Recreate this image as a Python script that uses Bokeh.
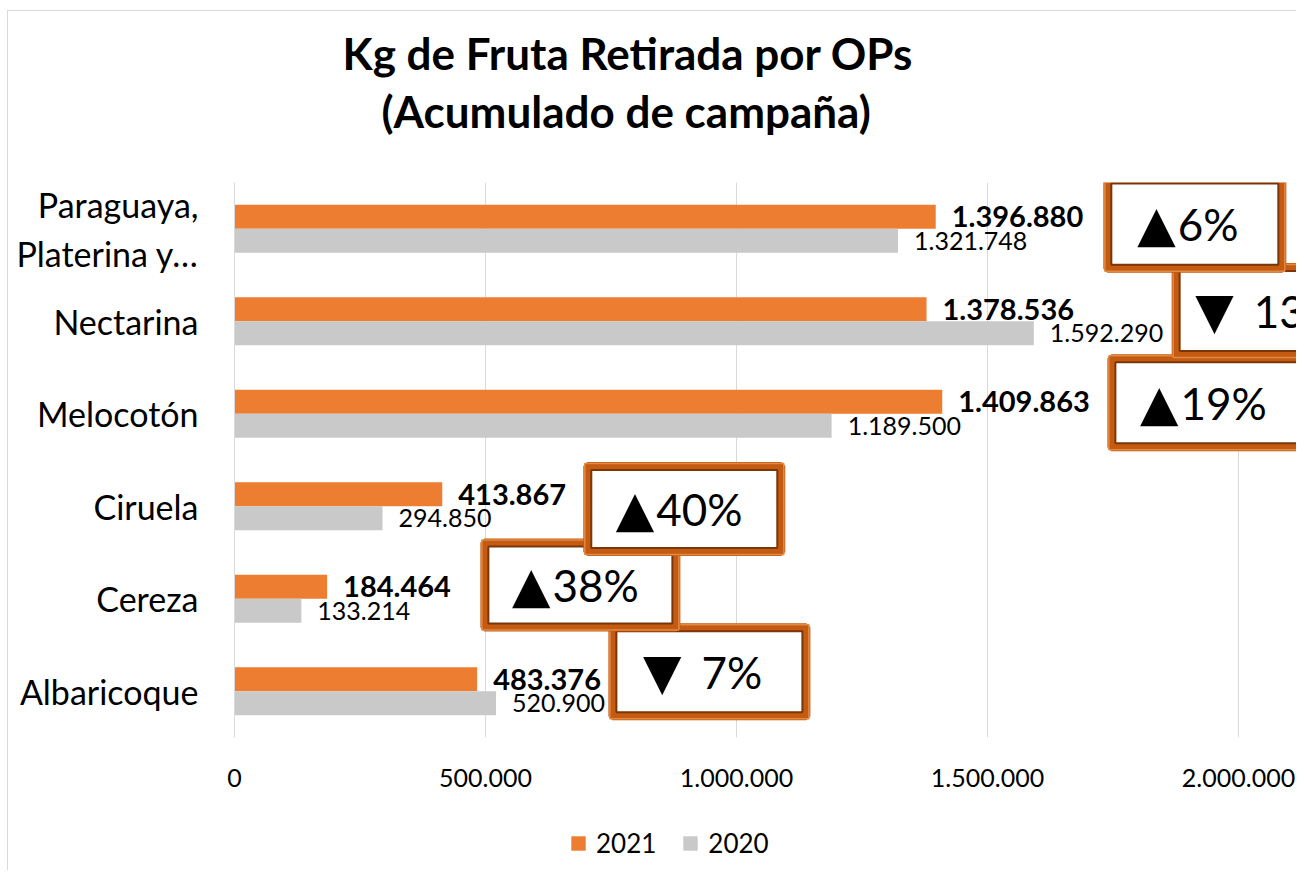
from bokeh.plotting import figure
from bokeh.layouts import column
from bokeh.models import FactorRange, Range1d, FixedTicker, ColumnDataSource, Legend, LegendItem, Title
from bokeh.transform import dodge
from bokeh.core.properties import value
from bokeh.embed import file_html
from bokeh.resources import INLINE

# ---------------- data ----------------
categories = ["Albaricoque", "Cereza", "Ciruela", "Melocotón", "Nectarina", "Paraguaya,\nPlaterina y…"]
kg_2021 = [483376, 184464, 413867, 1409863, 1378536, 1396880]
kg_2020 = [520900, 133214, 294850, 1189500, 1592290, 1321748]
series_names = ["2021", "2020"]
x_ticks = [0, 500000, 1000000, 1500000, 2000000]
x_tick_labels = ["0", "500.000", "1.000.000", "1.500.000", "2.000.000"]
title_lines = ["Kg de Fruta Retirada por OPs", "(Acumulado de campaña)"]

# ---------------- layout of the change call-outs (positions only) ----------------
callout_x = [946000, 689000, 896000, 1940000, 2068000, 1913000]
callout_dy = [0.21, 0.15, -0.03, 0.12, 0.11, 0.05]
callout_w = [194, 192, 194, 194, 194, 175]
callout_h = [89, 85, 86, 89, 88, 89]

ORANGE = "#ed7d31"
GRAY = "#c9c9c9"
FONT = "Lato"


def fmt(v):
    return f"{v:,}".replace(",", ".")


def change_parts(a, b):
    pct = round((a / b - 1) * 100)
    return ("▲" if pct >= 0 else "▼"), f"{abs(pct)}%", pct < 0


src = ColumnDataSource(dict(
    cat=categories,
    v21=kg_2021,
    v20=kg_2020,
    t21=[fmt(v) for v in kg_2021],
    t20=[fmt(v) for v in kg_2020],
))

W, H, HL = 1296, 800, 70
p = figure(
    width=W, height=H,
    y_range=FactorRange(*categories),
    x_range=Range1d(0, 1062 / 251 * 500000),
    output_backend="svg", toolbar_location=None,
    min_border_left=234, min_border_right=0, min_border_top=182, min_border_bottom=63,
)
p.outline_line_color = None
p.border_fill_color = None
p.background_fill_color = "white"

# bars
r21 = p.hbar(y=dodge("cat", 0.13, range=p.y_range), left=0, right="v21", height=0.26,
             source=src, fill_color=ORANGE, line_color=None)
r20 = p.hbar(y=dodge("cat", -0.13, range=p.y_range), left=0, right="v20", height=0.26,
             source=src, fill_color=GRAY, line_color=None)

# value labels
p.text(x="v21", y=dodge("cat", 0.13, range=p.y_range), text="t21", source=src,
       x_offset=16, text_align="left", text_baseline="middle",
       text_font=value(FONT), text_font_style="bold", text_font_size="29px", text_color="black")
p.text(x="v20", y=dodge("cat", -0.13, range=p.y_range), text="t20", source=src,
       x_offset=16, text_align="left", text_baseline="middle",
       text_font=value(FONT), text_font_size="25px", text_color="black")

# change call-outs
cy = [i + 0.5 + d for i, d in enumerate(callout_dy)]
parts = [change_parts(a, b) for a, b in zip(kg_2021, kg_2020)]
for i in range(len(categories)):
    tri, pct, down = parts[i]
    pw = 22 * sum(ch.isdigit() for ch in pct) + 40 + (18 if down else 0)
    tend = -7 - (38 + pw) / 2 + 38
    one = ColumnDataSource(dict(x=[callout_x[i]], y=[cy[i]], w=[callout_w[i]], h=[callout_h[i]],
                                w2=[callout_w[i] - 8], h2=[callout_h[i] - 8],
                                w3=[callout_w[i] + 5], h3=[callout_h[i] + 5],
                                tri=[tri], pct=[pct], xo=[tend], xo2=[tend + 2 + (18 if down else 0)]))
    p.rect(x="x", y="y", width="w", height="h", width_units="screen", height_units="screen",
           source=one, fill_color="white", line_color="#c55a11", line_width=8)
    p.rect(x="x", y="y", width="w3", height="h3", width_units="screen", height_units="screen",
           source=one, fill_color=None, line_color="#e08a45", line_width=1.5)
    p.rect(x="x", y="y", width="w2", height="h2", width_units="screen", height_units="screen",
           source=one, fill_color=None, line_color="#7a3608", line_width=2)
    p.text(x="x", y="y", text="tri", source=one, x_offset="xo", text_align="right",
           text_baseline="middle", text_font=value("DejaVu Sans"), text_font_size="50px",
           text_color="black")
    p.text(x="x", y="y", text="pct", source=one, x_offset="xo2", text_align="left",
           text_baseline="middle", text_font=value(FONT), text_font_size="44px", text_color="black")

# axes
p.xaxis.ticker = FixedTicker(ticks=x_ticks)
p.xaxis.major_label_overrides = {t: l for t, l in zip(x_ticks, x_tick_labels)}
p.xaxis.axis_line_color = None
p.xaxis.major_tick_line_color = None
p.xaxis.major_tick_out = 0
p.xaxis.major_tick_in = 0
p.xaxis.minor_tick_line_color = None
p.xaxis.major_label_standoff = 31
p.xaxis.major_label_text_font = FONT
p.xaxis.major_label_text_font_size = "25px"
p.xaxis.major_label_text_color = "black"

p.yaxis.axis_line_color = "#d9d9d9"
p.yaxis.major_tick_line_color = None
p.yaxis.major_tick_out = 0
p.yaxis.major_tick_in = 0
p.yaxis.minor_tick_line_color = None
p.yaxis.major_label_standoff = 36
p.yaxis.major_label_text_font = FONT
p.yaxis.major_label_text_font_size = "34px"
p.yaxis.major_label_text_color = "black"

p.xgrid.ticker = FixedTicker(ticks=x_ticks)
p.xgrid.grid_line_color = "#d9d9d9"
p.ygrid.grid_line_color = None

# title: a blank spacer next to the frame, then line 2, then line 1
p.add_layout(Title(text=" ", text_font_size="10px", standoff=31), "above")
p.add_layout(Title(text=title_lines[1], align="left", offset=147, standoff=4,
                   text_font=FONT, text_font_style="bold", text_font_size="44px",
                   text_color="black"), "above")
p.add_layout(Title(text=title_lines[0], align="left", offset=108, standoff=3,
                   text_font=FONT, text_font_style="bold", text_font_size="44px",
                   text_color="black"), "above")

# legend strip under the chart
pl = figure(width=W, height=HL, output_backend="svg", toolbar_location=None,
            x_range=Range1d(0, 1), y_range=Range1d(0, 1),
            x_axis_location=None, y_axis_location=None,
            min_border_left=0, min_border_right=0, min_border_top=0, min_border_bottom=0)
pl.outline_line_color = None
pl.border_fill_color = None
pl.background_fill_color = None
pl.grid.visible = False
# legend keys only (zero-size, outside the strip's view)
l21 = pl.hbar(y=[-5], left=[0], right=[0], height=0.1, fill_color=ORANGE, line_color=None)
l20 = pl.hbar(y=[-5], left=[0], right=[0], height=0.1, fill_color=GRAY, line_color=None)
legend = Legend(items=[LegendItem(label=series_names[0], renderers=[l21]),
                       LegendItem(label=series_names[1], renderers=[l20])],
                orientation="horizontal", location=(335, 11), margin=0, padding=0,
                glyph_width=18, glyph_height=18, label_standoff=9, spacing=25,
                label_text_font=FONT, label_text_font_size="26px", label_text_color="black",
                border_line_color=None, background_fill_color=None)
pl.add_layout(legend, "center")

layout = column(p, pl, styles={
    "background": ("linear-gradient(#d9d9d9, #d9d9d9) 7px 10px / 1px 100% no-repeat, "
                   "linear-gradient(#d9d9d9, #d9d9d9) 7px 10px / 100% 1px no-repeat, white"),
})

open("out.html", "w").write(file_html(layout, INLINE))
